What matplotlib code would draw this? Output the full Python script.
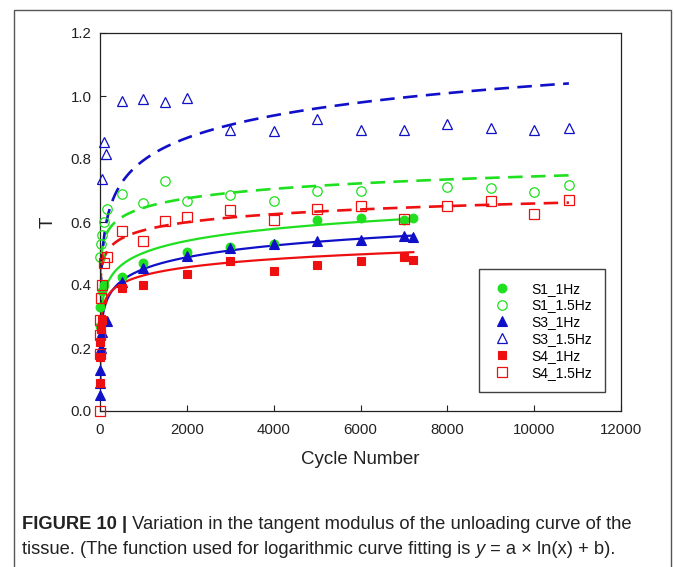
import numpy as np
import matplotlib
matplotlib.use("Agg")
import matplotlib.pyplot as plt
from matplotlib.patches import Rectangle

plt.rcParams['font.family'] = ['Liberation Sans', 'DejaVu Sans']

# ---------------- data ----------------
s1_1_x = [1, 10, 50, 100, 500, 1000, 2000, 3000, 4000, 5000, 6000, 7000, 7216]
s1_1_y = [0.27, 0.33, 0.38, 0.40, 0.425, 0.470, 0.504, 0.52, 0.53, 0.607, 0.613, 0.605, 0.613]

s1_15_x = [10, 20, 50, 100, 150, 500, 1000, 1500, 2000, 3000, 4000, 5000, 6000, 8000, 9000, 10000, 10800]
s1_15_y = [0.49, 0.53, 0.56, 0.60, 0.64, 0.690, 0.660, 0.730, 0.668, 0.686, 0.668, 0.697, 0.700, 0.711, 0.708, 0.695, 0.716]

s3_1_x = [1, 5, 10, 20, 50, 150, 500, 1000, 2000, 3000, 4000, 5000, 6000, 7000, 7216]
s3_1_y = [0.05, 0.09, 0.13, 0.20, 0.25, 0.285, 0.41, 0.454, 0.493, 0.518, 0.529, 0.541, 0.544, 0.554, 0.553]

s3_15_x = [50, 100, 130, 500, 1000, 1500, 2000, 3000, 4000, 5000, 6000, 7000, 8000, 9000, 10000, 10800]
s3_15_y = [0.737, 0.854, 0.817, 0.983, 0.989, 0.980, 0.994, 0.893, 0.890, 0.927, 0.893, 0.893, 0.912, 0.897, 0.893, 0.897]

s4_1_x = [1, 5, 10, 20, 50, 500, 1000, 2000, 3000, 4000, 5000, 6000, 7000, 7216]
s4_1_y = [0.09, 0.17, 0.22, 0.26, 0.29, 0.392, 0.401, 0.435, 0.477, 0.446, 0.464, 0.475, 0.490, 0.480]

s4_15_x = [0, 1, 5, 10, 20, 50, 100, 150, 500, 1000, 1500, 2000, 3000, 4000, 5000, 6000, 7000, 8000, 9000, 10000, 10800]
s4_15_y = [0.0, 0.18, 0.24, 0.29, 0.36, 0.40, 0.47, 0.49, 0.570, 0.541, 0.603, 0.615, 0.637, 0.605, 0.642, 0.650, 0.608, 0.650, 0.668, 0.626, 0.670]

# logarithmic fit coefficients y = a*ln(x) + b
fit_a = [0.055, 0.0433, 0.0538, 0.1026, 0.0374, 0.037]
fit_b = [0.122, 0.346, 0.079, 0.087, 0.172, 0.318]
fit_xmax = [7216, 10800, 7216, 10800, 7216, 10800]

labels = ["S1_1Hz", "S1_1.5Hz", "S3_1Hz", "S3_1.5Hz", "S4_1Hz", "S4_1.5Hz"]
xticks = [0, 2000, 4000, 6000, 8000, 10000, 12000]
yticks = [0.0, 0.2, 0.4, 0.6, 0.8, 1.0, 1.2]

# ---------------- styling ----------------
GREEN = '#1ee01e'
BLUE = '#1010c8'
RED = '#ee1010'
colors = [GREEN, GREEN, BLUE, BLUE, RED, RED]
markers = ['o', 'o', '^', '^', 's', 's']
filled = [True, False, True, False, True, False]
msizes = [6.3, 6.8, 6.8, 7.3, 6.3, 6.8]
dashed = [False, True, False, True, False, True]

W, H = 674, 567
fig = plt.figure(figsize=(W / 100, H / 100), dpi=100)
fig.patch.set_facecolor('white')
ax = fig.add_axes([100 / W, 1 - 411 / H, (621 - 100) / W, (411 - 33) / H])

xs = [s1_1_x, s1_15_x, s3_1_x, s3_15_x, s4_1_x, s4_15_x]
ys = [s1_1_y, s1_15_y, s3_1_y, s3_15_y, s4_1_y, s4_15_y]

# fit curves
for i in range(6):
    xx = np.geomspace(1, fit_xmax[i], 500)
    yy = fit_a[i] * np.log(xx) + fit_b[i]
    if dashed[i]:
        ax.plot(xx, yy, color=colors[i], lw=1.9, ls=(0, (5.5, 3.2)), zorder=2)
    else:
        ax.plot(xx, yy, color=colors[i], lw=1.6, zorder=2)

# data points
for i in range(6):
    if filled[i]:
        ax.plot(xs[i], ys[i], ls='none', marker=markers[i], ms=msizes[i],
                mfc=colors[i], mec=colors[i], mew=0.8, label=labels[i],
                zorder=3, clip_on=False)
    else:
        ax.plot(xs[i], ys[i], ls='none', marker=markers[i], ms=msizes[i],
                mfc='none', mec=colors[i], mew=0.9, label=labels[i],
                zorder=3, clip_on=False)

ax.set_xlim(0, 12000)
ax.set_ylim(0, 1.2)
ax.set_xticks(xticks)
ax.set_yticks(yticks)
ax.set_xticklabels([str(t) for t in xticks])
ax.set_yticklabels([f"{t:.1f}" for t in yticks])
ax.tick_params(direction='in', length=4.5, width=0.8, labelsize=10.8,
               colors='#222222')
ax.tick_params(axis='x', pad=9)
ax.tick_params(axis='y', pad=6)
for sp in ax.spines.values():
    sp.set_linewidth(0.9)
    sp.set_color('#222222')

ax.set_xlabel("Cycle Number", fontsize=13.5, color='#222222', labelpad=10)
ax.set_ylabel("T", fontsize=13.5, color='#222222', labelpad=10, rotation=90)

leg = ax.legend(loc='lower right', bbox_to_anchor=(0.969, 0.05), borderaxespad=0,
                fontsize=10, frameon=True, fancybox=False, edgecolor='#111111',
                handlelength=1.6, handletextpad=1.3, labelspacing=0.2,
                borderpad=0.9, numpoints=1)
leg.get_frame().set_linewidth(1.0)

# outer frame (bottom edge falls just outside the image)
fig.patches.append(Rectangle((14 / W, -2 / H), (671 - 14) / W, (H - 9.5 + 2) / H,
                             transform=fig.transFigure, fill=False,
                             edgecolor='#555555', lw=1.0, zorder=0))

# caption
cap_fs = 12.5
y1 = 1 - 529 / H
y2 = 1 - 554 / H
t1 = fig.text(22 / W, y1, "FIGURE 10 |", fontsize=cap_fs,
              fontweight='bold', color='#222222', va='baseline')
t2 = fig.text(0, y1, " Variation in the tangent modulus of the unloading curve of the",
              fontsize=cap_fs, color='#222222', va='baseline')
t3 = fig.text(22 / W, y2, "tissue. (The function used for logarithmic curve fitting is ",
              fontsize=cap_fs, color='#222222', va='baseline')
t4 = fig.text(0, y2, "y", fontsize=cap_fs, color='#222222', va='baseline',
              fontstyle='italic')
t5 = fig.text(0, y2, " = a \u00d7 ln(x) + b).", fontsize=cap_fs, color='#222222',
              va='baseline')


def chain():
    fig.canvas.draw()
    r = fig.canvas.get_renderer()
    t2.set_position((t1.get_window_extent(r).x1 / W, y1))
    t4.set_position((t3.get_window_extent(r).x1 / W, y2))
    fig.canvas.draw()
    t5.set_position((t4.get_window_extent(r).x1 / W, y2))
    fig.canvas.draw()
    return r


r = chain()
total = t2.get_window_extent(r).x1 - t1.get_window_extent(r).x0
scale = (633 - 22) / total
for t in (t1, t2, t3, t4, t5):
    t.set_fontsize(cap_fs * scale)
chain()

fig.savefig("out.png", dpi=100, facecolor='white')
